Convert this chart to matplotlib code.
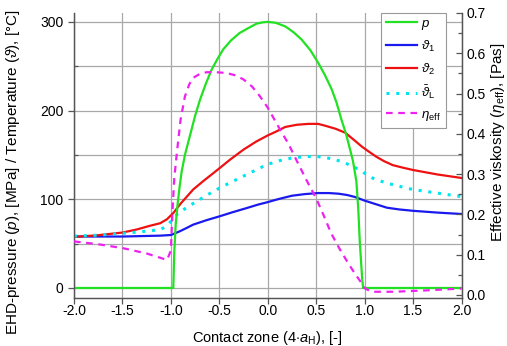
import matplotlib
matplotlib.use("Agg")
import matplotlib.pyplot as plt
from matplotlib.ticker import MultipleLocator
from matplotlib.lines import Line2D

plt.rcParams['font.family'] = ['Liberation Sans', 'DejaVu Sans']
plt.rcParams['mathtext.fontset'] = 'custom'
plt.rcParams['mathtext.rm'] = 'Liberation Sans'
plt.rcParams['mathtext.it'] = 'Liberation Sans:italic'

# ---- data ----
p_x = [-2.0, -0.975, -0.965, -0.95, -0.93, -0.91, -0.889, -0.855, -0.8, -0.75, -0.7, -0.64, -0.58,
       -0.52, -0.46, -0.38, -0.29, -0.2, -0.115, -0.05, 0.0, 0.08, 0.18, 0.27, 0.35, 0.44, 0.52,
       0.59, 0.66, 0.71, 0.76, 0.81, 0.85, 0.88, 0.915, 0.935, 0.95, 0.975, 0.985, 2.0]
p_y = [0, 0, 40, 72, 95, 114, 131, 150, 173, 194, 212, 230, 246,
       258, 269, 279, 287.5, 293, 298, 299.5, 300, 299, 295, 288, 280, 268, 254,
       240, 224, 209, 190, 173, 156, 143, 120, 88, 52, 10, 0, 0]

t1_x = [-2.0, -1.5, -1.11, -1.0, -0.91, -0.84, -0.77, -0.63, -0.5, -0.36, -0.22, -0.1, 0.0,
        0.12, 0.25, 0.38, 0.52, 0.63, 0.73, 0.82, 0.9, 1.0, 1.1, 1.23, 1.36, 1.5, 1.75, 2.0]
t1_y = [58, 58, 59, 59.7, 63.8, 67.5, 71.4, 76.5, 80.7, 85.5, 90, 94, 96.8,
        100.5, 104, 105.8, 107, 107, 106.3, 104.8, 102.6, 98.5, 95, 90.5, 88.5, 87, 85, 83.4]

t2_x = [-2.0, -1.75, -1.5, -1.35, -1.22, -1.11, -1.04, -0.975, -0.9, -0.77, -0.66, -0.56, -0.47,
        -0.39, -0.25, -0.12, 0.0, 0.08, 0.18, 0.3, 0.42, 0.52, 0.59, 0.7, 0.8, 0.9, 0.97, 1.04,
        1.12, 1.2, 1.29, 1.4, 1.5, 1.75, 2.0]
t2_y = [57.5, 59.5, 62.5, 66, 70, 73, 77.5, 84.5, 95, 111, 121, 129.6, 137.5,
        144.6, 156, 165, 172, 176, 181.5, 184, 185, 185, 183, 179.5, 175, 166, 159.5, 154,
        148, 143, 138.5, 135.5, 133, 128, 124]

tL_x = [-2.0, -1.75, -1.5, -1.3, -1.11, -1.04, -0.94, -0.84, -0.735, -0.63, -0.53, -0.41, -0.29,
        -0.15, -0.01, 0.12, 0.25, 0.37, 0.49, 0.6, 0.68, 0.76, 0.86, 0.95, 1.02, 1.08, 1.18, 1.29,
        1.4, 1.5, 1.75, 2.0]
tL_y = [58.5, 59.5, 61.6, 63.5, 65.7, 70, 82.6, 90.5, 97.6, 104.5, 110.8, 117.5, 124,
        131.5, 139, 143.5, 146.5, 148, 148.4, 147, 145, 142.7, 138, 133, 128, 124, 120, 116.5,
        113.5, 111, 107, 103]

eta_x = [-2.0, -1.75, -1.49, -1.25, -1.04, -1.0, -0.985, -0.965, -0.935, -0.9, -0.855, -0.81,
         -0.77, -0.7, -0.63, -0.53, -0.425, -0.33, -0.25, -0.16, -0.08, 0.0, 0.07, 0.14, 0.21,
         0.31, 0.4, 0.5, 0.58, 0.655, 0.74, 0.83, 0.9, 0.97, 1.0, 1.07, 1.3, 1.6, 2.0]
eta_y = [0.133, 0.126, 0.116, 0.103, 0.087, 0.11, 0.2, 0.29, 0.36, 0.435, 0.493, 0.523,
         0.539, 0.549, 0.553, 0.553, 0.551, 0.545, 0.535, 0.517, 0.493, 0.465, 0.435, 0.405, 0.377,
         0.328, 0.285, 0.24, 0.196, 0.153, 0.115, 0.079, 0.053, 0.029, 0.017, 0.008, 0.008, 0.011, 0.016]

x_ticks = [-2.0, -1.5, -1.0, -0.5, 0.0, 0.5, 1.0, 1.5, 2.0]
x_ticklabels = ['-2.0', '-1.5', '-1.0', '-0.5', '0.0', '0.5', '1.0', '1.5', '2.0']
left_ticks = [0, 100, 200, 300]
right_ticks = [0.0, 0.1, 0.2, 0.3, 0.4, 0.5, 0.6, 0.7]

labels = ['$p$', r'$\vartheta_{\mathrm{1}}$', r'$\vartheta_{\mathrm{2}}$',
          r'$\bar{\vartheta}_{\mathrm{L}}$', r'$\eta_{\mathrm{eff}}$']

c_p, c_1, c_2, c_L, c_e = '#22e022', '#1a1aee', '#ee1111', '#00e5ee', '#ee22ee'

fig = plt.figure(figsize=(5.07, 3.46), dpi=100)
ax = fig.add_axes([74/507, 1-298/346, (461.5-74)/507, (298-13)/346])
ax2 = ax.twinx()

ax.plot(p_x, p_y, color=c_p, lw=1.6, zorder=5)
ax.plot(t1_x, t1_y, color=c_1, lw=1.6, zorder=4)
ax.plot(t2_x, t2_y, color=c_2, lw=1.6, zorder=4)
ax.plot(tL_x, tL_y, color=c_L, lw=2.2, ls=(0, (1, 2.2)), zorder=4)
ax2.plot(eta_x, eta_y, color=c_e, lw=1.6, ls=(0, (3, 2.5)), zorder=4)

ax.set_xlim(-2.0, 2.0)
ax.set_ylim(-11.3, 310)
ax2.set_ylim(-0.0075, 0.70)

ax.set_xticks(x_ticks)
ax.set_xticklabels(x_ticklabels)
ax.set_yticks(left_ticks)
ax.yaxis.set_minor_locator(MultipleLocator(50))
ax2.set_yticks(right_ticks)
ax2.set_yticklabels([f'{v:.1f}' for v in right_ticks])
ax2.yaxis.set_minor_locator(MultipleLocator(0.05))

ax.grid(True, which='both', axis='y', color='#a8a8a8', lw=0.9)
ax.grid(True, which='major', axis='x', color='#a8a8a8', lw=0.9)
ax.set_axisbelow(True)

for a in (ax, ax2):
    a.spines['top'].set_visible(False)
    for s in a.spines.values():
        s.set_color('#555555')
        s.set_linewidth(0.9)

ax.tick_params(axis='both', which='major', labelsize=10, direction='out', length=4, color='#555555', width=0.9)
ax.tick_params(axis='x', which='major', pad=0.5)
ax.tick_params(axis='y', which='minor', direction='in', length=3, color='#555555', width=0.9)
ax2.tick_params(axis='y', which='major', labelsize=10, direction='in', length=4, color='#555555', width=0.9)
ax2.tick_params(axis='y', which='minor', direction='in', length=3, color='#555555', width=0.9)

ax.set_xlabel(r'Contact zone (4$\cdot$$a_{\mathrm{H}}$), [-]', fontsize=10.5)
ax.xaxis.set_label_coords(0.499, -0.108)
ax.set_ylabel(r'EHD-pressure ($p$), [MPa] / Temperature ($\vartheta$), [°C]', fontsize=11)
ax.yaxis.set_label_coords(-0.134, 0.44)
ax2.set_ylabel(r'Effective viskosity ($\eta_{\mathrm{eff}}$), [Pas]', fontsize=11)
ax2.yaxis.set_label_coords(1.071, 0.547)

handles = [Line2D([], [], color=c_p, lw=1.6),
           Line2D([], [], color=c_1, lw=1.6),
           Line2D([], [], color=c_2, lw=1.6),
           Line2D([], [], color=c_L, lw=2.2, ls=(0, (1, 2.2))),
           Line2D([], [], color=c_e, lw=1.6, ls=(0, (3, 2.5)))]
leg = ax2.legend(handles, labels, loc='upper left', bbox_to_anchor=(381/507, 1-13/346),
                 bbox_transform=fig.transFigure, fontsize=9.5, frameon=True, fancybox=False,
                 edgecolor='#999999', framealpha=1, borderpad=0.35, handlelength=2.4,
                 handletextpad=0.3, labelspacing=0.55, borderaxespad=0)
leg.get_frame().set_linewidth(0.8)
leg.set_zorder(10)

fig.savefig('out.png', dpi=100)
